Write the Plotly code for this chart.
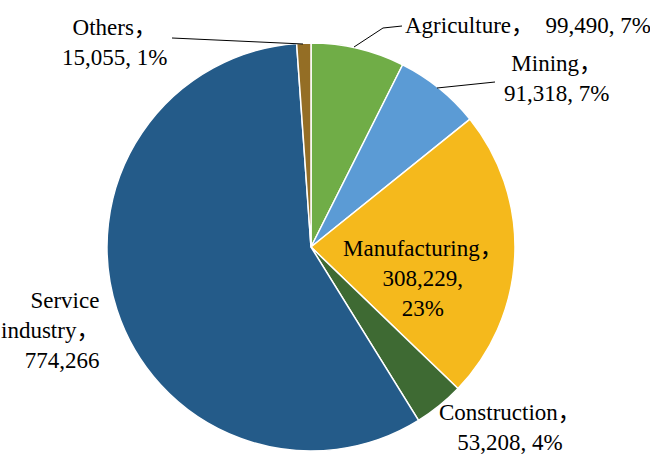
import plotly.graph_objects as go

W, H = 650, 459

sectors = ["Agriculture", "Mining", "Manufacturing", "Construction", "Service industry", "Others"]
values = [99490, 91318, 308229, 53208, 774266, 15055]
colors = ["#70AD47", "#5B9BD5", "#F5B91C", "#3E6A33", "#245B89", "#946E25"]

label_texts = [
    "Agriculture，  99,490, 7%",
    "Mining，<br>91,318, 7%",
    "Manufacturing，<br>308,229,<br>23%",
    "Construction，<br>53,208, 4%",
    "Service<br>industry，<br>774,266",
    "Others，<br>15,055, 1%",
]

FONT = "'Liberation Serif', 'Times New Roman', 'Noto Sans CJK SC', serif"

def px(x):
    return x / W

def py(y):
    return 1 - y / H

cx, cy, r = 311, 247, 204

fig = go.Figure(go.Pie(
    labels=sectors,
    values=values,
    sort=False,
    direction="clockwise",
    rotation=0,
    marker=dict(colors=colors, line=dict(color="white", width=1.5)),
    textinfo="none",
    hoverinfo="label+value+percent",
    domain=dict(x=[px(cx - r), px(cx + r)], y=[py(cy + r), py(cy - r)]),
    showlegend=False,
))

# label placement (pixel positions): x, y, xanchor, align
placements = [
    (403, 26, "left", "left"),
    (556, 78, "center", "center"),
    (423, 278, "center", "center"),
    (510, 427, "center", "center"),
    (101, 330, "right", "right"),
    (114, 42, "center", "center"),
]

annotations = []
for txt, (x, y, xa, al) in zip(label_texts, placements):
    annotations.append(dict(
        x=px(x), y=py(y), xref="paper", yref="paper",
        text=txt, showarrow=False, xanchor=xa, yanchor="middle", align=al,
        font=dict(family=FONT, size=23, color="black"),
    ))

leader_lines = [
    [(402, 26), (383, 28), (354, 47)],
    [(495, 82), (437, 88)],
    [(172, 38), (303, 44)],
]
shapes = []
for pts in leader_lines:
    for (x0, y0), (x1, y1) in zip(pts[:-1], pts[1:]):
        shapes.append(dict(type="line", xref="paper", yref="paper",
                           x0=px(x0), y0=py(y0), x1=px(x1), y1=py(y1),
                           line=dict(color="black", width=1)))

fig.update_layout(
    width=W, height=H,
    margin=dict(l=0, r=0, t=0, b=0),
    paper_bgcolor="white", plot_bgcolor="white",
    font=dict(family=FONT),
    annotations=annotations,
    shapes=shapes,
)

fig.write_html("out.html")
